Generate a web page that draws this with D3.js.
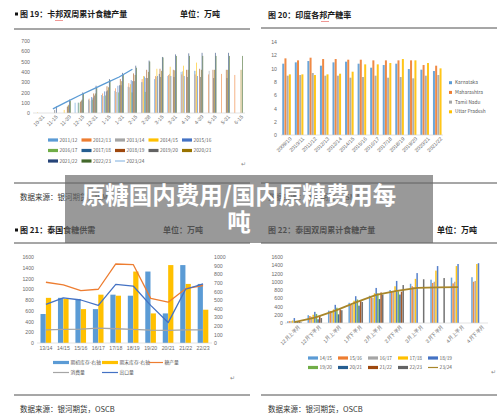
<!DOCTYPE html>
<html lang="zh">
<head>
<meta charset="UTF-8">
<title>原糖国内费用/国内原糖费用每吨</title>
<script src="https://cdn.jsdelivr.net/npm/d3@7"></script>
<style>
  body { margin: 0; background: #fff; }
  svg { display: block; font-family: "Noto Sans CJK SC", "DejaVu Sans", sans-serif; }
  .tk { font-size: 5.2px; fill: #6b6b6b; }
  .lg { font-size: 4.8px; fill: #595959; }
  .ttl { font-size: 8px; font-weight: 700; fill: #1a1a1a; }
  .src { font-size: 7.5px; fill: #333; }
  .rule { stroke: #222; stroke-width: 0.8; }
  .mark { font-size: 6px; fill: #888; }
  .banner { font-size: 23.5px; font-weight: 700; fill: #fff; }
</style>
</head>
<body>
<svg id="page" width="500" height="419"></svg>
<script>
// ---- chart 19: 卡邦双周累计食糖产量 ----
const c1Cats = ["10-31","11-15","11-30","12-15","12-31","1-15","1-31","2-15","2-28","3-15","3-31","4-15","4-30","5-15","5-31","6-15"];
const c1Series = ["2011/12","2012/13","2013/14","2014/15","2015/16","2016/17","2017/18","2018/19","2019/20","2020/21","2021/22","2022/23"];
const c1Bars = [
  [null,null,null,100,130,175,215,255,300,330,360,400,410,null,null,null],
  [null,null,null,null,140,190,240,290,330,360,370,375,375,375,380,370],
  [null,null,null,null,120,165,205,250,300,350,380,405,410,410,null,null],
  [5,null,30,null,null,null,null,280,360,430,450,460,490,null,null,null],
  [null,null,null,100,155,210,265,320,355,360,360,360,360,null,null,null],
  [null,null,null,100,130,170,200,200,205,null,null,null,null,null,null,null],
  [null,null,null,null,150,210,270,310,340,380,null,null,null,null,null,null],
  [null,null,60,110,190,260,330,385,420,430,420,420,430,420,420,null],
  [null,30,70,120,170,220,270,310,340,350,350,350,350,340,340,null],
  [null,null,80,130,190,250,310,370,400,410,415,420,420,420,420,420],
  [null,65,130,200,265,330,390,460,510,545,570,580,585,585,585,null],
  [null,null,120,190,250,320,370,440,500,540,555,555,555,555,555,555]
];
const c1LineName = "2023/24";
const c1Line = [null,40,105,170,230,290,350,425,null,null,null,null,null,null,null,null];
const c1Ticks = [0,100,200,300,400,500,600,700];

// ---- chart 20: 印度各邦产糖率 ----
const c2Cats = ["2009/10","2010/11","2011/12","2012/13","2013/14","2014/15","2015/16","2016/17","2017/18","2018/19","2019/20","2020/21","2021/22"];
const c2Series = ["Karnataka","Maharashtra","Tamil Nadu","Uttar Pradesh"];
const c2Karnataka = [10.7,10.9,11.1,10.4,10.9,11.0,10.7,10.1,10.5,10.7,9.9,9.8,9.6];
const c2Maharashtra = [11.5,11.2,11.6,11.4,11.4,11.3,11.3,11.2,11.2,11.2,11.2,10.5,10.4];
const c2TamilNadu = [8.9,9.0,9.3,8.9,8.9,8.6,8.7,8.9,8.6,8.7,8.5,8.9,9.0];
const c2UttarPradesh = [9.1,9.1,9.0,9.1,9.2,9.5,10.6,10.6,10.8,11.4,11.2,10.8,10.0];
const c2Ticks = [0,2,4,6,8,10,12,14];

// ---- chart 21: 泰国食糖供需 ----
const c3Cats = ["13/14","14/15","15/16","16/17","17/18","18/19","19/20","20/21","21/22","22/23"];
const c3OpenStock = [337,525,512,394,562,550,831,344,906,687];   // 期初库存-右轴
const c3CloseStock = [525,512,394,562,550,831,344,906,687,387];  // 期末库存-右轴
const c3Production = [1130,1080,975,1000,1470,1460,830,760,1010,1070]; // 糖产量
const c3Consumption = [245,255,260,275,265,255,240,235,245,245];       // 消费量
const c3Export = [720,840,800,700,1090,1060,700,380,1000,1100];         // 出口量
const c3LeftTicks = [0,200,400,600,800,1000,1200,1400,1600];
const c3RightTicks = [0,100,200,300,400,500,600,700,800,900,1000];

// ---- chart 22: 泰国双周累计食糖产量 ----
const c4Cats = ["12月上半月","12月下半月","1月上半月","1月下半月","2月上半月","2月下半月","3月上半月","3月下半月","4月上半月","4月下半月"];
const c4Series = ["14/15","15/16","16/17","17/18","18/19","19/20","20/21","21/22","22/23"];
const c4Bars = [
  [40,190,300,490,660,800,950,1050,1100,1110],
  [45,170,290,450,620,760,890,970,960,1000],
  [50,150,280,440,610,750,870,1000,1000,1020],
  [60,200,330,540,720,890,1070,1270,1380,1430],
  [120,270,440,650,850,1020,1210,1380,1430,1450],
  [50,220,370,570,720,770,null,null,null,null],
  [30,90,210,420,580,690,null,null,null,null],
  [40,170,330,530,740,760,null,null,null,null],
  [20,120,310,510,690,920,1060,1090,null,null]
];
const c4LineName = "23/24";
const c4Line = [20,130,300,500,680,780,850,865,870,null];
const c4Ticks = [0,200,400,600,800,1000,1200,1400,1600];

const excel = ["#5B9BD5","#ED7D31","#A5A5A5","#FFC000","#4472C4","#70AD47","#255E91","#9E480E","#636363","#997300","#264478","#43682B"];

const svg = d3.select("#page");
const plain = d3.format("d");

function styleAxis(g) {
  g.select(".domain").remove();
  g.selectAll("text").attr("class", "tk");
}

function leftAxis(scale, x, ticks) {
  svg.append("g").attr("transform", `translate(${x},0)`)
    .call(d3.axisLeft(scale).tickValues(ticks).tickFormat(plain).tickSize(0).tickPadding(0))
    .call(styleAxis);
}

function baseLine(x, y) {
  svg.append("line").attr("x1", x.range()[0]).attr("x2", x.range()[1])
    .attr("y1", y).attr("y2", y).attr("stroke", "#d0d0d0").attr("stroke-width", 0.6);
}

function rotatedLabels(x, y, dx) {
  svg.append("g").attr("transform", `translate(0,${y})`)
    .call(d3.axisBottom(x).tickSize(0).tickPadding(0))
    .call(styleAxis)
    .selectAll("text")
    .attr("text-anchor", "end")
    .attr("dy", "0.35em")
    .attr("transform", `translate(${dx},0) rotate(-45)`);
}

function groupedBars(x, y, rows, colors, pad, opacity) {
  const inner = d3.scaleBand().domain(d3.range(rows.length)).range([0, x.bandwidth()]).padding(0);
  rows.forEach((vals, si) => {
    svg.append("g").selectAll("rect")
      .data(vals.map((v, i) => ({ v, c: x.domain()[i] })).filter(d => d.v != null))
      .join("rect")
      .attr("x", d => x(d.c) + inner(si))
      .attr("width", Math.max(inner.bandwidth() - pad, 0.6))
      .attr("y", d => y(d.v))
      .attr("height", d => y(0) - y(d.v))
      .attr("fill", colors[si])
      .attr("opacity", opacity);
  });
}

function drawLine(x, y, vals, color, width) {
  const line = d3.line()
    .defined(d => d.v != null)
    .x(d => x(d.c) + x.bandwidth() / 2)
    .y(d => y(d.v));
  svg.append("path")
    .datum(vals.map((v, i) => ({ v, c: x.domain()[i] })))
    .attr("d", line).attr("fill", "none")
    .attr("stroke", color).attr("stroke-width", width)
    .attr("stroke-linejoin", "round");
}

function header(x, y, title, unitX, ruleX1, ruleX2, ruleY, square) {
  if (square) svg.append("rect").attr("x", x - 5).attr("y", y - 4.5).attr("width", 3).attr("height", 3).attr("fill", "#111");
  svg.append("text").attr("class", "ttl").attr("x", x).attr("y", y).text(title);
  if (unitX) svg.append("text").attr("class", "ttl").attr("x", unitX).attr("y", y).text("单位：万吨");
  svg.append("line").attr("class", "rule").attr("x1", ruleX1).attr("x2", ruleX2).attr("y1", ruleY).attr("y2", ruleY);
}

function squiggle(x, y, w) {
  let d = `M${x},${y}`;
  for (let i = 0; i < w; i += 2) d += ` l1,1 l1,-1`;
  svg.append("path").attr("d", d).attr("fill", "none").attr("stroke", "#e0302a").attr("stroke-width", 0.5);
}

function legendRow(items, x0, step, y, colW) {
  items.forEach((it, i) => {
    const x = x0 + i * step;
    if (it.type === "bar") {
      svg.append("rect").attr("x", x).attr("y", y - 1.6).attr("width", colW).attr("height", 3.2).attr("fill", it.color);
    } else {
      svg.append("line").attr("x1", x).attr("x2", x + colW).attr("y1", y).attr("y2", y)
        .attr("stroke", it.color).attr("stroke-width", it.w || 1.2);
    }
    svg.append("text").attr("class", "lg").attr("x", x + colW + 1.5).attr("y", y).attr("dy", "0.35em").text(it.name);
  });
}

// ================= Chart 19 =================
header(20, 17, "图 19：卡邦双周累计食糖产量", 180, 14, 250, 29, true);
squiggle(55, 20, 8);
{
  const x = d3.scaleBand().domain(c1Cats).range([33, 245]).paddingInner(0.3).paddingOuter(0.15);
  const y = d3.scaleLinear().domain([0, 700]).range([113, 41]);
  leftAxis(y, 30, c1Ticks);
  groupedBars(x, y, c1Bars, excel, 0.1, 0.85);
  baseLine(x, 113);
  drawLine(x, y, c1Line, "#5B9BD5", 1.3);
  rotatedLabels(x, 116, 4);
  const items = c1Series.map((s, i) => ({ name: s, color: excel[i], type: "bar" }))
    .concat([{ name: c1LineName, color: "#5B9BD5", type: "line", w: 0.8 }]);
  [0, 1, 2].forEach(r => legendRow(items.slice(r * 5, r * 5 + 5), 48, 33.5, 140 + r * 10.5, 10));
}
svg.append("text").attr("class", "mark").attr("x", 241).attr("y", 166).text("↵");
svg.append("line").attr("class", "rule").attr("x1", 14).attr("x2", 250).attr("y1", 183).attr("y2", 183);
svg.append("text").attr("class", "src").attr("x", 20).attr("y", 200).text("数据来源：银河期货，ISMA");

// ================= Chart 20 =================
header(268, 18, "图 20：印度各邦产糖率", null, 261, 497, 28, false);
squiggle(321, 21, 8);
{
  const x = d3.scaleBand().domain(c2Cats).range([281, 443]).paddingInner(0.3).paddingOuter(0.1);
  const y = d3.scaleLinear().domain([0, 14]).range([135, 41.7]);
  const cols = ["#5B9BD5", "#ED7D31", "#A5A5A5", "#FFC000"];
  leftAxis(y, 277, c2Ticks);
  groupedBars(x, y, [c2Karnataka, c2Maharashtra, c2TamilNadu, c2UttarPradesh], cols, 0.2, 0.9);
  baseLine(x, 135);
  rotatedLabels(x, 138, 4);
  c2Series.forEach((s, i) => {
    const ly = 82.7 + i * 9.7;
    svg.append("rect").attr("x", 449).attr("y", ly - 1.5).attr("width", 3).attr("height", 3).attr("fill", cols[i]);
    svg.append("text").attr("class", "lg").attr("x", 455).attr("y", ly).attr("dy", "0.35em").text(s);
  });
}
svg.append("line").attr("class", "rule").attr("x1", 261).attr("x2", 497).attr("y1", 183).attr("y2", 183);
svg.append("text").attr("class", "src").attr("x", 268).attr("y", 200).text("数据来源：银河期货，ISMA");

// ================= Chart 21 =================
header(20, 233, "图 21：泰国食糖供需", 163, 14, 250, 243, true);
{
  const x = d3.scaleBand().domain(c3Cats).range([37, 212]).paddingInner(0.38).paddingOuter(0.2);
  const yL = d3.scaleLinear().domain([0, 1600]).range([343, 257]);
  const yR = d3.scaleLinear().domain([0, 1000]).range([343, 257]);
  leftAxis(yL, 34, c3LeftTicks);
  svg.append("g").attr("transform", "translate(214,0)")
    .call(d3.axisRight(yR).tickValues(c3RightTicks).tickFormat(plain).tickSize(0).tickPadding(0))
    .call(styleAxis);
  groupedBars(x, yR, [c3OpenStock, c3CloseStock], ["#5B9BD5", "#FFC000"], 0.2, 1);
  baseLine(x, 343);
  drawLine(x, yL, c3Consumption, "#A5A5A5", 1.3);
  drawLine(x, yL, c3Production, "#ED7D31", 1.3);
  drawLine(x, yL, c3Export, "#4472C4", 1.3);
  svg.append("g").attr("transform", "translate(0,346)")
    .call(d3.axisBottom(x).tickSize(0).tickPadding(0))
    .call(styleAxis)
    .selectAll("text").attr("dy", "0.8em");
  legendRow([
    { name: "期初库存-右轴", color: "#5B9BD5", type: "bar" },
    { name: "期末库存-右轴", color: "#FFC000", type: "bar" }
  ], 53, 49, 362.5, 16);
  legendRow([{ name: "糖产量", color: "#ED7D31", type: "line" }], 149, 0, 362.5, 14);
  legendRow([
    { name: "消费量", color: "#A5A5A5", type: "line" },
    { name: "出口量", color: "#4472C4", type: "line" }
  ], 53, 49, 372.5, 16);
}
svg.append("text").attr("class", "mark").attr("x", 230).attr("y", 380).text("↵");
svg.append("line").attr("class", "rule").attr("x1", 14).attr("x2", 250).attr("y1", 395).attr("y2", 395);
svg.append("text").attr("class", "src").attr("x", 20).attr("y", 412).text("数据来源：银河期货，OSCB");

// ================= Chart 22 =================
header(268, 233, "图 22：泰国双周累计食糖产量", 437, 261, 497, 243, false);
{
  const x = d3.scaleBand().domain(c4Cats).range([285, 488]).paddingInner(0.28).paddingOuter(0.1);
  const y = d3.scaleLinear().domain([0, 1600]).range([323, 257]);
  leftAxis(y, 283, c4Ticks);
  groupedBars(x, y, c4Bars, excel, 0.15, 0.9);
  baseLine(x, 323);
  drawLine(x, y, c4Line, "#a8862a", 1.8);
  rotatedLabels(x, 326, 5);
  const items = c4Series.map((s, i) => ({ name: s, color: excel[i], type: "bar" }))
    .concat([{ name: c4LineName, color: "#a8862a", type: "line", w: 1.2 }]);
  legendRow(items.slice(0, 5), 308, 30, 358, 10);
  legendRow(items.slice(5), 308, 30, 367.5, 10);
}
svg.append("text").attr("class", "mark").attr("x", 491).attr("y", 374).text("↵");
svg.append("line").attr("class", "rule").attr("x1", 261).attr("x2", 497).attr("y1", 395).attr("y2", 395);
svg.append("text").attr("class", "src").attr("x", 268).attr("y", 412).text("数据来源：银河期货，OSCB");

// ================= Banner overlay =================
svg.append("rect").attr("x", 65).attr("y", 175).attr("width", 368).attr("height", 68)
  .attr("fill", "rgba(105,105,105,0.68)");
svg.append("text").attr("class", "banner").attr("x", 239).attr("y", 204)
  .attr("text-anchor", "middle").text("原糖国内费用/国内原糖费用每");
svg.append("text").attr("class", "banner").attr("x", 239).attr("y", 231)
  .attr("text-anchor", "middle").text("吨");
</script>
</body>
</html>
